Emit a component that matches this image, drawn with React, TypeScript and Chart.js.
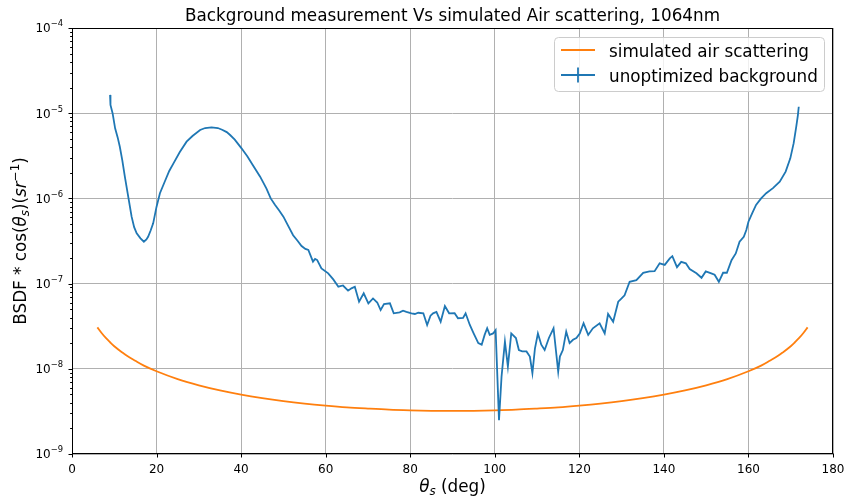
import { useEffect, useRef } from 'react';
import { Chart, registerables } from 'chart.js';

Chart.register(...registerables);

// ---- data ----
const titleText = 'Background measurement Vs simulated Air scattering, 1064nm';
const xTicks = [0, 20, 40, 60, 80, 100, 120, 140, 160, 180];
const yExponents = [-9, -8, -7, -6, -5, -4];
const legendLabels = ['simulated air scattering', 'unoptimized background'];

const airAngles = [6, 7, 8, 9, 10, 12, 13, 15, 17, 20, 25, 30, 35, 40, 45, 50, 55, 60, 65, 70, 75, 80, 85, 90,
  95, 100, 105, 110, 115, 120, 125, 130, 135, 140, 145, 150, 155, 160, 163, 165, 167, 168, 170, 171, 172, 173, 174];
const airValues = [3.06e-8, 2.63e-8, 2.30e-8, 2.05e-8, 1.84e-8, 1.54e-8, 1.42e-8, 1.24e-8, 1.09e-8, 9.36e-9,
  7.57e-9, 6.40e-9, 5.58e-9, 4.98e-9, 4.53e-9, 4.18e-9, 3.91e-9, 3.70e-9, 3.53e-9, 3.41e-9, 3.31e-9, 3.25e-9,
  3.21e-9, 3.20e-9, 3.21e-9, 3.25e-9, 3.31e-9, 3.41e-9, 3.53e-9, 3.70e-9, 3.91e-9, 4.18e-9, 4.53e-9, 4.98e-9,
  5.58e-9, 6.40e-9, 7.57e-9, 9.36e-9, 1.09e-8, 1.24e-8, 1.42e-8, 1.54e-8, 1.84e-8, 2.05e-8, 2.30e-8, 2.63e-8, 3.06e-8];

const bgAngles = [9.0, 9.1, 9.6, 10.2, 10.8, 11.3, 11.9, 12.5, 13.3, 14.1, 14.7, 15.3, 16.2, 17.0, 17.6, 18.0, 18.6,
  19.2, 20.0, 20.8, 22.0, 23.0, 24.0, 25.5, 27.1, 28.5, 30.3, 31.5, 33.0, 34.5, 35.5, 36.6, 37.4, 38.5, 40.1, 41.5,
  42.9, 44.5, 46.0, 47.0, 48.0, 49.0, 50.0, 51.2, 52.3, 53.3, 54.3, 55.2, 55.9, 57.0, 57.5, 58.0, 59.0, 60.6, 61.8,
  63.0, 64.1, 65.3, 66.1, 66.9, 67.9, 69.0, 70.1, 71.2, 72.2, 73.0, 73.8, 75.2, 76.1, 77.5, 78.3, 79.1, 80.3, 81.1,
  81.9, 83.1, 84.0, 84.8, 85.4, 86.2, 87.2, 88.2, 89.2, 90.5, 91.3, 92.5, 93.1, 94.1, 95.0, 96.1, 96.9, 97.6, 98.2,
  98.8, 99.6, 100.2, 101.0, 101.6, 102.4, 103.1, 103.9, 105.0, 105.7, 106.5, 107.5, 108.3, 108.9, 109.5, 110.2,
  111.0, 111.8, 112.8, 113.9, 115.0, 115.4, 116.1, 116.9, 117.7, 118.5, 119.3, 120.1, 121.0, 122.1, 123.2, 124.8,
  126.0, 126.8, 128.0, 129.2, 130.0, 130.7, 131.9, 133.5, 135.1, 136.6, 137.8, 139.0, 140.2, 141.4, 142.0, 143.1,
  144.1, 145.2, 146.1, 147.7, 148.9, 149.9, 151.2, 152.0, 153.0, 154.0, 154.9, 156.0, 157.0, 157.9, 158.9, 159.5,
  160.0, 160.9, 161.8, 163.0, 164.2, 165.8, 167.4, 168.8, 169.9, 170.7, 171.3, 171.7, 171.9];
const bgValues = [1.64e-5, 1.25e-5, 1.0e-5, 6.65e-6, 5.2e-6, 4.06e-6, 2.8e-6, 1.8e-6, 1.05e-6, 6.1e-7, 4.6e-7, 3.9e-7,
  3.4e-7, 3.1e-7, 3.3e-7, 3.55e-7, 4.2e-7, 5.1e-7, 8.0e-7, 1.15e-6, 1.6e-6, 2.1e-6, 2.58e-6, 3.5e-6, 4.63e-6, 5.4e-6,
  6.35e-6, 6.7e-6, 6.83e-6, 6.7e-6, 6.4e-6, 6.0e-6, 5.55e-6, 4.9e-6, 3.87e-6, 3.1e-6, 2.4e-6, 1.8e-6, 1.3e-6, 1.0e-6,
  8.4e-7, 7.2e-7, 6.1e-7, 4.7e-7, 3.7e-7, 3.2e-7, 2.76e-7, 2.55e-7, 2.48e-7, 1.81e-7, 1.95e-7, 1.89e-7, 1.51e-7,
  1.32e-7, 1.12e-7, 9.2e-8, 9.5e-8, 8.26e-8, 8.8e-8, 9.2e-8, 6.13e-8, 7.7e-8, 5.87e-8, 6.7e-8, 6.0e-8, 4.9e-8, 5.75e-8,
  5.87e-8, 4.48e-8, 4.6e-8, 4.8e-8, 4.65e-8, 4.48e-8, 4.4e-8, 4.55e-8, 4.48e-8, 3.27e-8, 4.2e-8, 4.48e-8, 4.65e-8,
  3.57e-8, 5.46e-8, 4.48e-8, 4.5e-8, 3.92e-8, 3.95e-8, 4.48e-8, 3.27e-8, 2.61e-8, 2.0e-8, 1.92e-8, 2.5e-8, 2.99e-8,
  2.5e-8, 2.6e-8, 2.85e-8, 2.5e-9, 8.1e-9, 2.08e-8, 1.06e-8, 2.6e-8, 2.3e-8, 1.66e-8, 1.6e-8, 1.6e-8, 1.39e-8, 8.9e-9,
  1.73e-8, 2.6e-8, 1.92e-8, 1.66e-8, 2.3e-8, 2.99e-8, 9.3e-9, 1.39e-8, 1.66e-8, 2.73e-8, 2.0e-8, 2.19e-8, 2.3e-8,
  2.6e-8, 3.42e-8, 2.5e-8, 2.99e-8, 3.42e-8, 2.6e-8, 4.4e-8, 3.57e-8, 6.13e-8, 6.7e-8, 7.3e-8, 1.05e-7, 1.1e-7,
  1.34e-7, 1.39e-7, 1.4e-7, 1.73e-7, 1.66e-7, 1.98e-7, 2.1e-7, 1.56e-7, 1.8e-7, 1.73e-7, 1.48e-7, 1.32e-7, 1.17e-7,
  1.39e-7, 1.32e-7, 1.27e-7, 1.05e-7, 1.34e-7, 1.34e-7, 1.88e-7, 2.26e-7, 3.1e-7, 3.55e-7, 4.26e-7, 5.33e-7, 6.7e-7,
  8.4e-7, 1.0e-6, 1.15e-6, 1.32e-6, 1.57e-6, 2.06e-6, 2.95e-6, 4.45e-6, 6.9e-6, 9.5e-6, 1.19e-5];

// ---- styling ----
const FONT = "'DejaVu Sans'";
const ORANGE = '#ff7f0e';
const BLUE = '#1f77b4';
const GRID = '#b0b0b0';

type Piece = { t: string; size: number; italic?: boolean; dy?: number };

function setFont(ctx: CanvasRenderingContext2D, p: Piece) {
  ctx.font = `${p.italic ? 'italic ' : ''}${p.size}px ${FONT}`;
}
function measurePieces(ctx: CanvasRenderingContext2D, pieces: Piece[]) {
  let w = 0;
  for (const p of pieces) { setFont(ctx, p); w += ctx.measureText(p.t).width; }
  return w;
}
function drawPieces(ctx: CanvasRenderingContext2D, pieces: Piece[], x: number, y: number) {
  let cx = x;
  ctx.textAlign = 'left';
  ctx.textBaseline = 'alphabetic';
  for (const p of pieces) {
    setFont(ctx, p);
    ctx.fillText(p.t, cx, y + (p.dy || 0));
    cx += ctx.measureText(p.t).width;
  }
}

const isDecade = (v: number) => v > 0 && Math.abs(Math.log10(v) - Math.round(Math.log10(v))) < 1e-6;

const decorPlugin = {
  id: 'decor',
  afterDraw(chart: any) {
    const { ctx, chartArea: a, scales } = chart;
    const xs = scales.x, ys = scales.y;
    ctx.save();
    ctx.fillStyle = '#000';
    ctx.strokeStyle = '#000';
    ctx.lineWidth = 1;

    // spines
    const L = Math.round(a.left) + 0.5, R = Math.round(a.right) - 0.5;
    const T = Math.round(a.top) + 0.5, B = Math.round(a.bottom) - 0.5;
    ctx.strokeRect(L, T, R - L, B - T);

    // x ticks + labels
    ctx.font = `12px ${FONT}`;
    ctx.textAlign = 'center';
    ctx.textBaseline = 'alphabetic';
    for (const v of xTicks) {
      const px = Math.round(xs.getPixelForValue(v)) + 0.5;
      ctx.beginPath(); ctx.moveTo(px, B); ctx.lineTo(px, B + 4); ctx.stroke();
      ctx.fillText(String(v), xs.getPixelForValue(v), 473);
    }

    // y ticks (major + minor) + labels
    for (const e of yExponents) {
      const py = Math.round(ys.getPixelForValue(Math.pow(10, e))) + 0.5;
      ctx.beginPath(); ctx.moveTo(L - 4, py); ctx.lineTo(L, py); ctx.stroke();
      if (e < -4) {
        for (let k = 2; k <= 9; k++) {
          const my = Math.round(ys.getPixelForValue(k * Math.pow(10, e))) + 0.5;
          ctx.beginPath(); ctx.moveTo(L - 2.4, my); ctx.lineTo(L, my); ctx.stroke();
        }
      }
      const pieces: Piece[] = [
        { t: '10', size: 12 },
        { t: '\u2212' + String(-e), size: 8.4, dy: -6 },
      ];
      const w = measurePieces(ctx, pieces);
      drawPieces(ctx, pieces, 63 - w, ys.getPixelForValue(Math.pow(10, e)) + 4.3);
    }

    // title
    ctx.font = `16.8px ${FONT}`;
    ctx.textAlign = 'center';
    ctx.textBaseline = 'alphabetic';
    ctx.fillText(titleText, (a.left + a.right) / 2, 21);

    // x label
    const xl: Piece[] = [
      { t: '\u03b8', size: 16.8, italic: true },
      { t: 's', size: 11.8, italic: true, dy: 3 },
      { t: ' (deg)', size: 16.8 },
    ];
    const xw = measurePieces(ctx, xl);
    drawPieces(ctx, xl, (a.left + a.right) / 2 - xw / 2, 492);

    // y label (rotated)
    const yl: Piece[] = [
      { t: 'BSDF * cos(', size: 16.8 },
      { t: '\u03b8', size: 16.8, italic: true },
      { t: 's', size: 11.8, italic: true, dy: 3 },
      { t: ')(', size: 16.8 },
      { t: 'sr', size: 16.8, italic: true },
      { t: '\u22121', size: 11.8, dy: -7 },
      { t: ')', size: 16.8 },
    ];
    const yw = measurePieces(ctx, yl);
    ctx.save();
    ctx.translate(26, (a.top + a.bottom) / 2);
    ctx.rotate(-Math.PI / 2);
    drawPieces(ctx, yl, -yw / 2, 0);
    ctx.restore();

    // legend
    ctx.beginPath();
    (ctx as any).roundRect(554.5, 37.5, 270, 54, 4);
    ctx.fillStyle = 'rgba(255,255,255,0.8)';
    ctx.fill();
    ctx.strokeStyle = '#cccccc';
    ctx.stroke();

    ctx.lineWidth = 1.8;
    ctx.strokeStyle = ORANGE;
    ctx.beginPath(); ctx.moveTo(561, 50); ctx.lineTo(595, 50); ctx.stroke();
    ctx.strokeStyle = BLUE;
    ctx.beginPath(); ctx.moveTo(561, 75); ctx.lineTo(595, 75); ctx.stroke();
    ctx.beginPath(); ctx.moveTo(578, 67.5); ctx.lineTo(578, 82.5); ctx.stroke();

    ctx.fillStyle = '#000';
    ctx.font = `16.8px ${FONT}`;
    ctx.textAlign = 'left';
    ctx.textBaseline = 'alphabetic';
    ctx.fillText(legendLabels[0], 609, 56.5);
    ctx.fillText(legendLabels[1], 609, 81.5);

    ctx.restore();
  },
};

export default function App() {
  const ref = useRef<HTMLCanvasElement>(null);
  useEffect(() => {
    const airData = airAngles.map((x, i) => ({ x, y: airValues[i] }));
    const bgData = bgAngles.map((x, i) => ({ x, y: bgValues[i] }));
    const chart = new Chart(ref.current as HTMLCanvasElement, {
      type: 'line',
      data: {
        datasets: [
          {
            label: legendLabels[0],
            data: airData,
            borderColor: ORANGE,
            borderWidth: 1.8,
            pointRadius: 0,
            cubicInterpolationMode: 'monotone',
            fill: false,
            order: 2,
          },
          {
            label: legendLabels[1],
            data: bgData,
            borderColor: BLUE,
            borderWidth: 1.8,
            pointRadius: 0,
            tension: 0,
            fill: false,
            order: 1,
          },
        ],
      },
      options: {
        animation: false,
        responsive: false,
        devicePixelRatio: 1,
        layout: { padding: { top: 28, right: 11, left: 0, bottom: 0 } },
        plugins: {
          legend: { display: false },
          title: { display: false },
          tooltip: { enabled: false },
        },
        scales: {
          x: {
            type: 'linear',
            min: 0,
            max: 180,
            ticks: { display: false, stepSize: 20 },
            grid: { color: GRID, lineWidth: 1, drawTicks: false },
            border: { display: false },
            afterFit: (s: any) => { s.height = 46; },
          },
          y: {
            type: 'logarithmic',
            min: 1e-9,
            max: 1e-4,
            ticks: { display: false },
            grid: {
              color: (c: any) => (c.tick && isDecade(c.tick.value) ? GRID : 'rgba(0,0,0,0)'),
              lineWidth: 1,
              drawTicks: false,
            },
            border: { display: false },
            afterFit: (s: any) => { s.width = 72; },
          },
        },
      } as any,
      plugins: [decorPlugin],
    });
    return () => chart.destroy();
  }, []);
  return (
    <div style={{ position: 'fixed', left: 0, top: 0, width: 844, height: 500, background: '#fff' }}>
      <canvas ref={ref} width={844} height={500} style={{ display: 'block', width: 844, height: 500 }} />
    </div>
  );
}
